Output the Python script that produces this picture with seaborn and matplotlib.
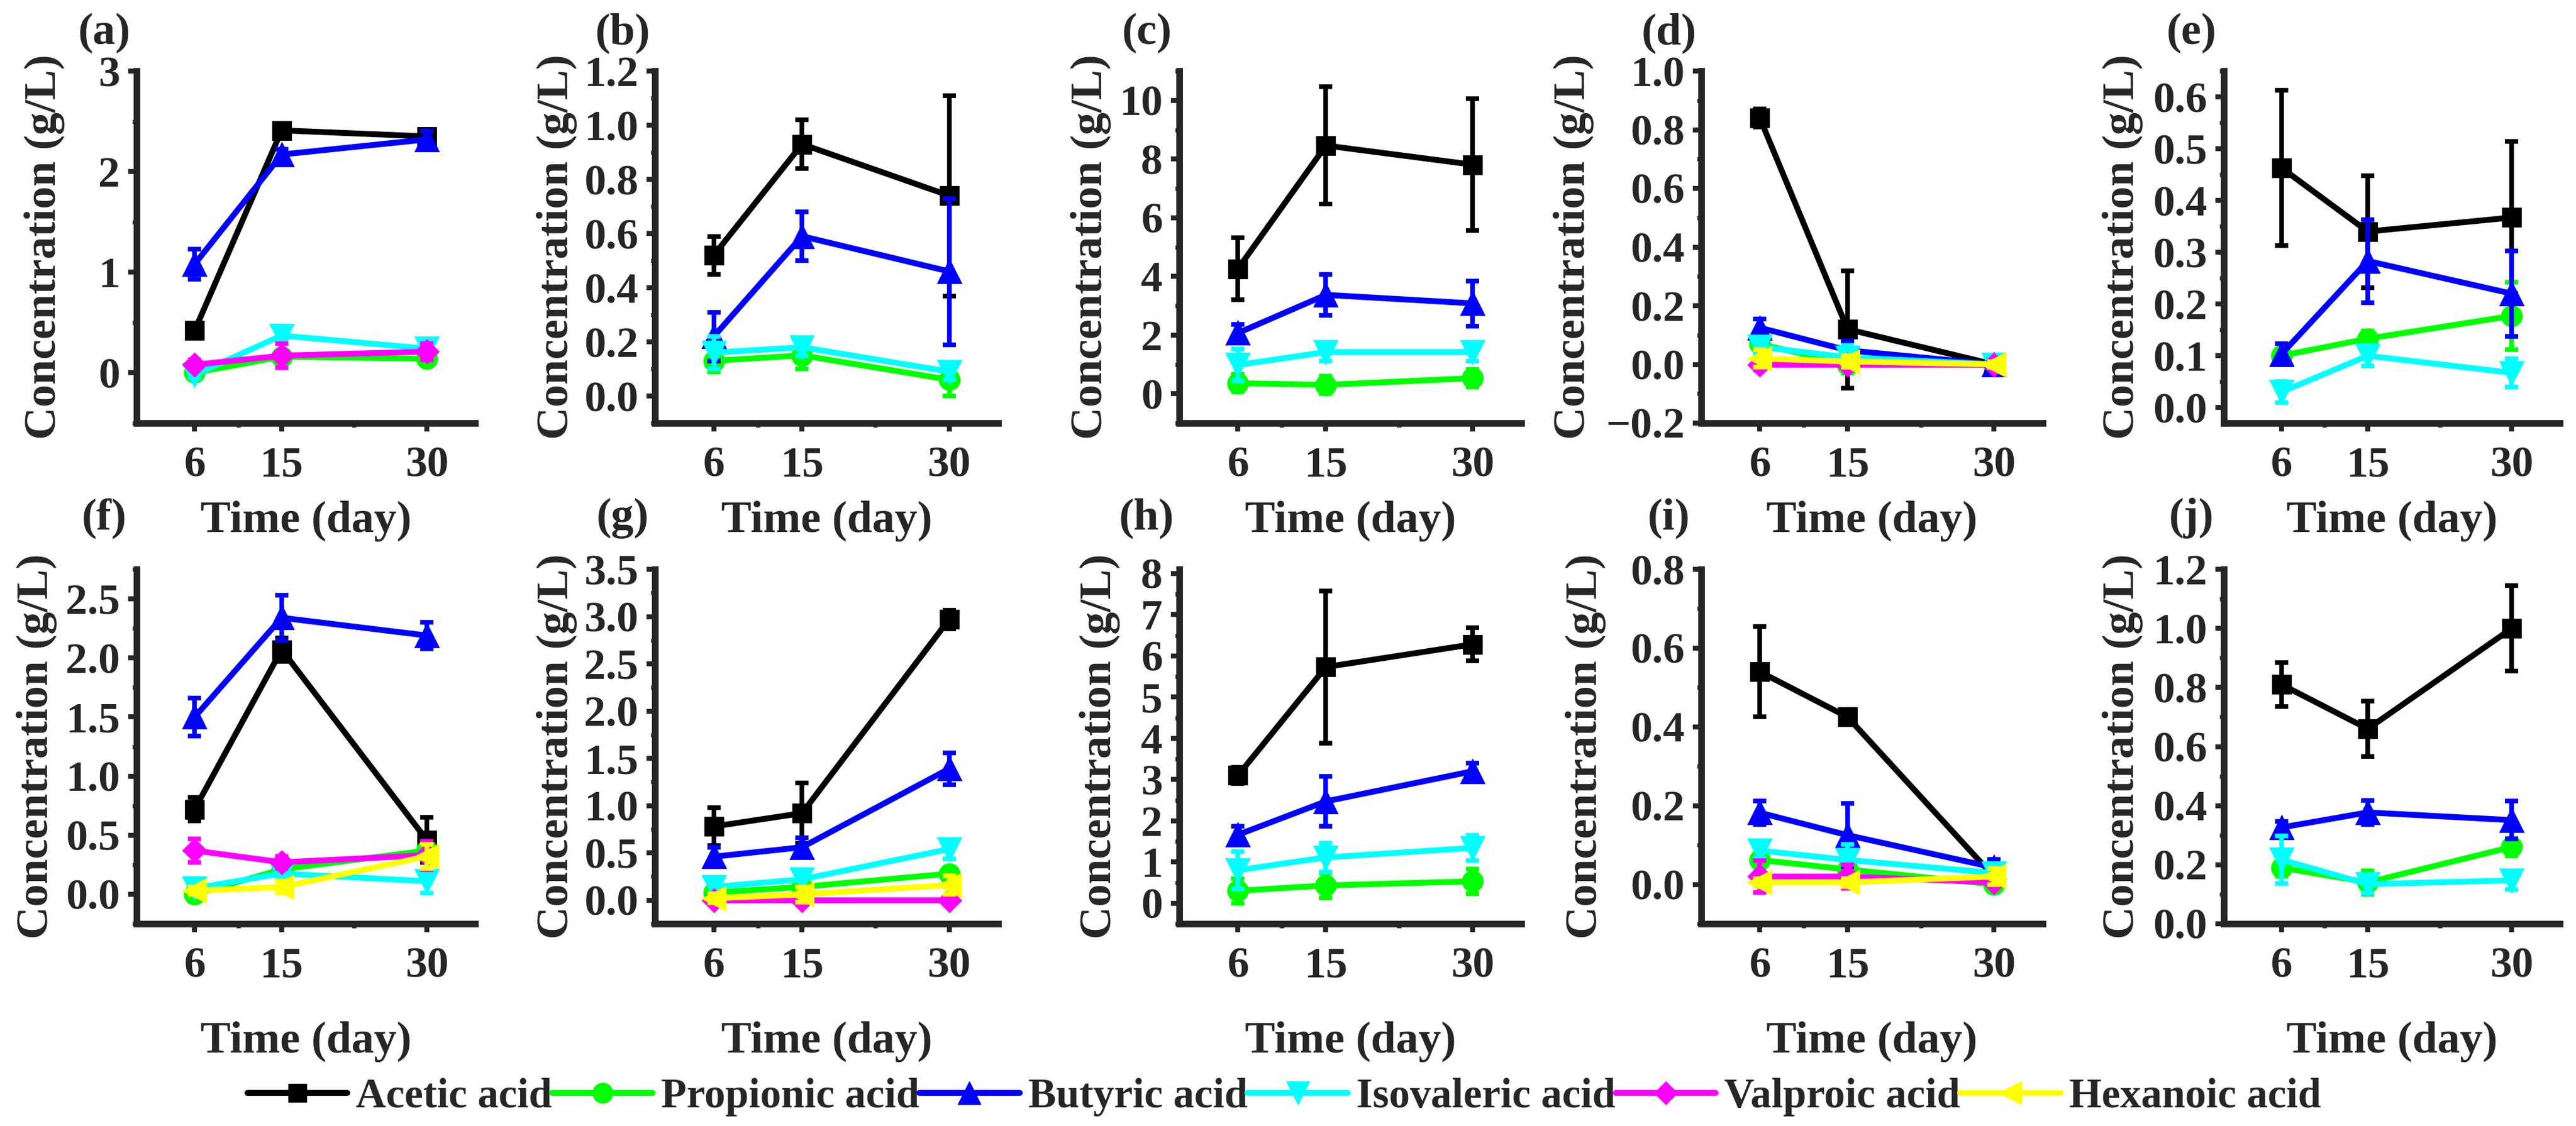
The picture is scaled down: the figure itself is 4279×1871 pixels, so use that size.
import matplotlib
matplotlib.use('Agg')
import matplotlib.pyplot as plt
from matplotlib.lines import Line2D
from matplotlib.ticker import MultipleLocator, FixedLocator
import seaborn as sns
import numpy as np

sns.set_style('ticks')
plt.rcParams['font.family'] = ['Liberation Serif', 'DejaVu Serif']
plt.rcParams['font.weight'] = 'bold'
plt.rcParams['axes.labelweight'] = 'bold'
plt.rcParams['lines.solid_joinstyle'] = 'round'
plt.rcParams['lines.solid_capstyle'] = 'round'

# ---- data ----
days = [6, 15, 30]
acids = ['Acetic acid', 'Propionic acid', 'Butyric acid',
         'Isovaleric acid', 'Valproic acid', 'Hexanoic acid']
colors = ['#000000', '#00FF00', '#0000FF', '#00FFFF', '#FF00FF', '#FFFF00']
markers = ['s', 'o', '^', 'v', 'D', '<']

# rows follow the acids list, None = not measured in that panel
a_mean = [[0.42, 2.41, 2.35], [0.0, 0.16, 0.14], [1.08, 2.17, 2.32],
          [-0.02, 0.37, 0.24], [0.08, 0.17, 0.21], None]
a_err = [[0.04, 0.05, 0.07], [0.03, 0.04, 0.06], [0.15, 0.05, 0.08],
         [0.03, 0.04, 0.03], [0.05, 0.12, 0.08], None]

b_mean = [[0.52, 0.93, 0.74], [0.13, 0.15, 0.06], [0.22, 0.59, 0.46],
          [0.16, 0.18, 0.09], None, None]
b_err = [[0.07, 0.09, 0.37], [0.04, 0.05, 0.06], [0.09, 0.09, 0.27],
         [0.06, 0.03, 0.03], None, None]

c_mean = [[4.26, 8.46, 7.81], [0.36, 0.30, 0.53], [2.07, 3.37, 3.08],
          [0.98, 1.42, 1.42], None, None]
c_err = [[1.06, 2.0, 2.25], [0.3, 0.3, 0.3], [0.3, 0.7, 0.77],
         [0.55, 0.3, 0.3], None, None]

d_mean = [[0.84, 0.12, 0.0], [0.07, 0.0, 0.0], [0.125, 0.048, 0.0],
          [0.06, 0.024, 0.0], [0.0, 0.0, 0.0], [0.02, 0.01, 0.0]]
d_err = [[0.03, 0.2, 0.01], [0.02, 0.03, 0.01], [0.03, 0.03, 0.01],
         [0.02, 0.04, 0.01], [0.02, 0.01, 0.01], [0.03, 0.02, 0.01]]

e_mean = [[0.463, 0.34, 0.367], [0.10, 0.133, 0.177], [0.103, 0.283, 0.22],
          [0.03, 0.10, 0.067], None, None]
e_err = [[0.15, 0.108, 0.147], [0.01, 0.015, 0.065], [0.02, 0.08, 0.083],
         [0.02, 0.02, 0.027], None, None]

f_mean = [[0.72, 2.07, 0.46], [0.0, 0.21, 0.37], [1.5, 2.34, 2.19],
          [0.05, 0.175, 0.11], [0.37, 0.27, 0.33], [0.03, 0.06, 0.32]]
f_err = [[0.1, 0.1, 0.19], [0.03, 0.05, 0.05], [0.16, 0.19, 0.11],
         [0.05, 0.05, 0.1], [0.1, 0.05, 0.12], [0.03, 0.05, 0.1]]

g_mean = [[0.78, 0.92, 2.97], [0.08, 0.14, 0.28], [0.46, 0.56, 1.39],
          [0.14, 0.22, 0.54], [0.0, 0.0, 0.0], [0.02, 0.06, 0.16]]
g_err = [[0.2, 0.32, 0.1], [0.04, 0.05, 0.05], [0.1, 0.1, 0.17],
         [0.1, 0.08, 0.1], [0.02, 0.02, 0.02], [0.05, 0.08, 0.1]]

h_mean = [[3.1, 5.73, 6.28], [0.3, 0.43, 0.53], [1.66, 2.47, 3.2],
          [0.8, 1.11, 1.34], None, None]
h_err = [[0.2, 1.85, 0.4], [0.3, 0.3, 0.3], [0.2, 0.6, 0.2],
         [0.45, 0.35, 0.3], None, None]

i_mean = [[0.54, 0.425, 0.02], [0.062, 0.038, 0.0], [0.182, 0.125, 0.043],
          [0.086, 0.062, 0.029], [0.02, 0.02, 0.005], [0.005, 0.005, 0.02]]
i_err = [[0.115, 0.01, 0.03], [0.03, 0.02, 0.01], [0.03, 0.08, 0.02],
         [0.02, 0.04, 0.01], [0.04, 0.03, 0.01], [0.01, 0.01, 0.02]]

j_mean = [[0.81, 0.66, 1.0], [0.19, 0.14, 0.26], [0.326, 0.377, 0.351],
          [0.217, 0.134, 0.147], None, None]
j_err = [[0.075, 0.093, 0.145], [0.03, 0.04, 0.03], [0.02, 0.04, 0.064],
         [0.08, 0.03, 0.03], None, None]

panel_names = ['(a)', '(b)', '(c)', '(d)', '(e)', '(f)', '(g)', '(h)', '(i)', '(j)']
means = [a_mean, b_mean, c_mean, d_mean, e_mean, f_mean, g_mean, h_mean, i_mean, j_mean]
errs = [a_err, b_err, c_err, d_err, e_err, f_err, g_err, h_err, i_err, j_err]

ylims = [(-0.5, 3.0), (-0.1, 1.2), (-1, 11), (-0.2, 1.0), (-0.03, 0.65),
         (-0.25, 2.75), (-0.25, 3.5), (-0.5, 8.1), (-0.1, 0.8), (0, 1.2)]
yticks = [[0, 1, 2, 3],
          [0.0, 0.2, 0.4, 0.6, 0.8, 1.0, 1.2],
          [0, 2, 4, 6, 8, 10],
          [-0.2, 0.0, 0.2, 0.4, 0.6, 0.8, 1.0],
          [0.0, 0.1, 0.2, 0.3, 0.4, 0.5, 0.6],
          [0.0, 0.5, 1.0, 1.5, 2.0, 2.5],
          [0.0, 0.5, 1.0, 1.5, 2.0, 2.5, 3.0, 3.5],
          [0, 1, 2, 3, 4, 5, 6, 7, 8],
          [0.0, 0.2, 0.4, 0.6, 0.8],
          [0.0, 0.2, 0.4, 0.6, 0.8, 1.0, 1.2]]
ytick_fmt = ['%d', '%.1f', '%d', '%.1f', '%.1f', '%.1f', '%.1f', '%d', '%.1f', '%.1f']
yminor = [0.5, 0.1, 1, 0.1, 0.05, 0.25, 0.25, 0.5, 0.1, 0.1]

# ---- layout (pixels of the 4279x1871 canvas) ----
W, H = 4279, 1871
lefts = [227, 1088, 1959, 2826, 3694]
widths = [562, 570, 568, 567, 558]
rows = [(118, 703), (946, 1535)]
ylab_off = [119, 129, 113, 178, 134, 132, 129, 98, 158, 134]
xlab_off = [129, 162]
plab_y = [55, 861]

fig = plt.figure(figsize=(W / 100, H / 100), dpi=100)

ms = {'s': 22, 'o': 24, '^': 27, 'v': 27, 'D': 19, '<': 27}

for k in range(10):
    r, c = divmod(k, 5)
    top, bot = rows[r]
    ax = fig.add_axes([lefts[c] / W, 1 - bot / H, widths[c] / W, (bot - top) / H])
    for s in range(6):
        vals = means[k][s]
        if vals is None:
            continue
        sns.lineplot(x=days, y=vals, ax=ax, color=colors[s], marker=markers[s],
                     markersize=ms[markers[s]], markeredgecolor=colors[s],
                     markeredgewidth=2, linewidth=7, errorbar=None, zorder=3 + s)
        ax.errorbar(days, vals, yerr=errs[k][s], fmt='none', ecolor=colors[s],
                    elinewidth=5.5, capsize=8, capthick=5.5, zorder=3 + s)
    ax.set_xlim(0, 35)
    ax.set_ylim(*ylims[k])
    ax.xaxis.set_major_locator(FixedLocator(days))
    ax.xaxis.set_minor_locator(FixedLocator([10.5, 22.5]))
    ax.set_xticklabels([str(d) for d in days])
    ax.yaxis.set_major_locator(FixedLocator(yticks[k]))
    ax.set_yticklabels([(ytick_fmt[k] % v).replace('-', '\u2212') for v in yticks[k]])
    ax.yaxis.set_minor_locator(MultipleLocator(yminor[k]))
    sns.despine(ax=ax)
    for sp in ['left', 'bottom']:
        ax.spines[sp].set_linewidth(8)
    ax.tick_params(which='major', direction='out', length=10, width=6, labelsize=52)
    ax.tick_params(which='minor', direction='out', length=5, width=5)
    ax.tick_params(axis='x', which='major', pad=18)
    ax.tick_params(axis='y', which='major', pad=10)
    for lab in ax.get_xticklabels() + ax.get_yticklabels():
        lab.set_fontweight('bold')
    ax.set_xlabel('Time (day)', fontsize=54, fontweight='bold')
    ax.set_ylabel('Concentration (g/L)', fontsize=54, fontweight='bold')
    ax.xaxis.set_label_coords(0.5, -xlab_off[r] / (bot - top))
    ax.yaxis.set_label_coords(-ylab_off[k] / widths[c], 0.5)
    fig.text((lefts[c] - 54) / W, 1 - plab_y[r] / H, panel_names[k],
             ha='center', va='center', fontsize=54, fontweight='bold')

handles = [Line2D([0], [0], color=colors[s], marker=markers[s],
                  markersize=ms[markers[s]], markeredgecolor=colors[s],
                  linewidth=7) for s in range(6)]
fig.legend(handles, acids, loc='center', bbox_to_anchor=(0.4985, 1 - 1823 / H),
           ncol=6, frameon=False, handlelength=2.4, handletextpad=0.2,
           columnspacing=0.0, prop={'size': 50, 'weight': 'bold'})

plt.savefig('out.png', dpi=100)
